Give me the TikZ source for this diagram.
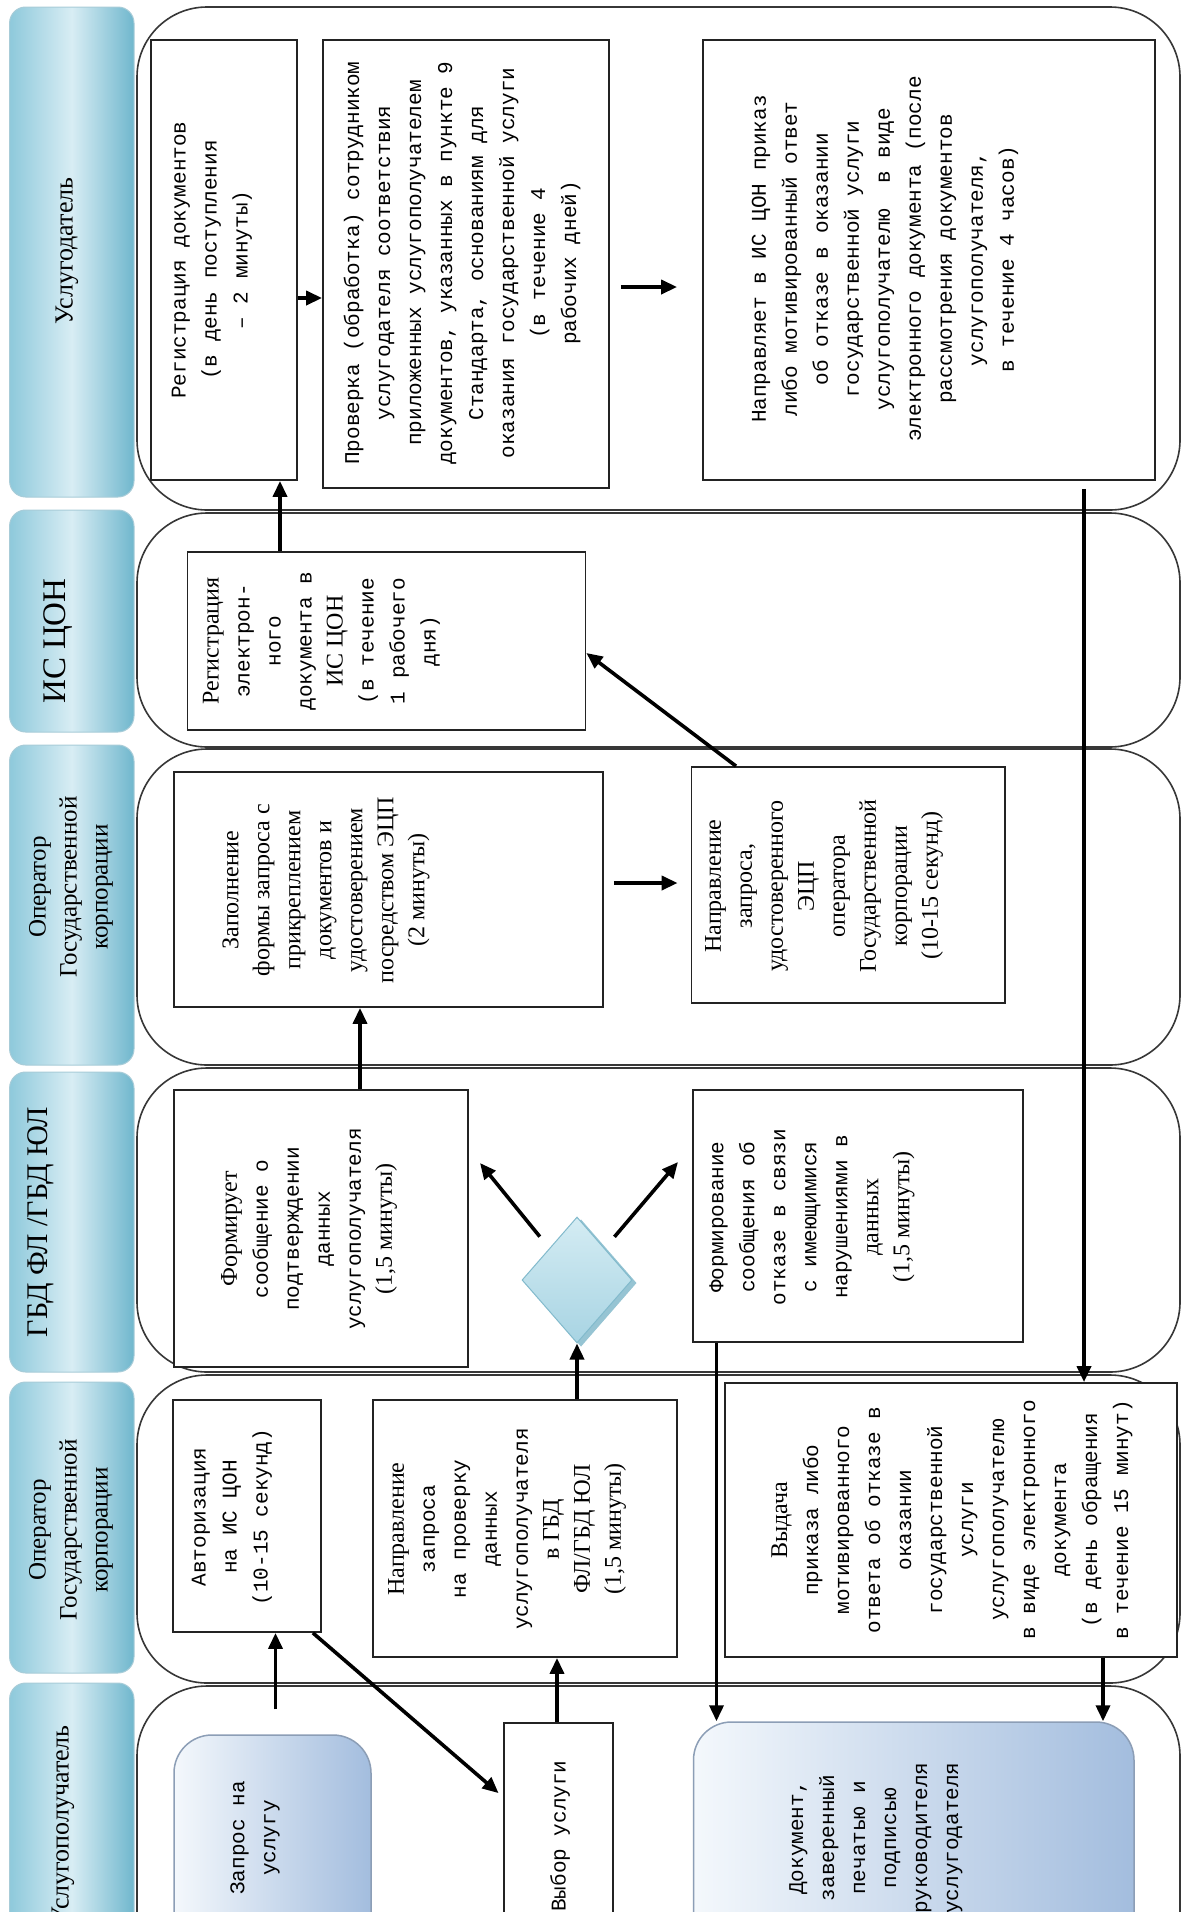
\documentclass[tikz,border=0pt]{standalone}
\usepackage{fontspec}
\setmainfont{Liberation Serif}
\newfontfamily\monofam{Liberation Mono}
\usetikzlibrary{arrows.meta,shapes.geometric,fit,calc}

\newcommand\mntxt{\fontsize{21}{31}\selectfont\monofam}
\newcommand\rmtxt{\fontsize{24}{31}\selectfont\rmfamily}
\newcommand\hdfont[1]{\fontsize{#1}{31}\selectfont\rmfamily}

\definecolor{hdrL}{RGB}{142,201,219}
\definecolor{hdrM}{RGB}{216,237,244}
\definecolor{hdrR}{RGB}{112,183,205}
\definecolor{hdrD}{RGB}{168,204,216}
\definecolor{termL}{RGB}{244,248,252}
\definecolor{termR}{RGB}{163,189,222}
\definecolor{termD}{RGB}{140,158,182}
\definecolor{decL}{RGB}{212,236,243}
\definecolor{decR}{RGB}{168,212,227}
\definecolor{decD}{RGB}{130,186,204}
\definecolor{decS}{RGB}{150,196,211}
\definecolor{laneD}{RGB}{55,55,55}
\definecolor{boxD}{RGB}{35,35,35}

\begin{document}
\begin{tikzpicture}[x=1pt,y=-1pt,
  lanebox/.style={draw=laneD, line width=1.6pt, rounded corners=70pt},
  hdrbox/.style={draw=hdrD, line width=1pt, rounded corners=16pt,
    left color=hdrL, right color=hdrR, middle color=hdrM, inner sep=0pt},
  procbox/.style={draw=boxD, line width=1.8pt, fill=white, inner sep=0pt},
  termbox/.style={draw=termD, line width=1.5pt, rounded corners=38pt,
    left color=termL, right color=termR, inner sep=0pt},
  decbox/.style={diamond, draw=decD, line width=1pt, inner sep=0pt,
    minimum width=110pt, minimum height=126pt},
  conn/.style={line width=3.6pt, -{Triangle[length=16pt,width=14pt]}},
  mtext/.style={rotate=90, align=center, inner sep=0pt, font=\mntxt},
  stext/.style={rotate=90, align=center, inner sep=0pt, font=\rmtxt},
]
\useasboundingbox (0,0) rectangle (1183,1912);
\clip (0,0) rectangle (1183,1912);
\fill[white] (0,0) rectangle (1183,1912);

% swimlane frames
\draw[lanebox] (137,7)    rectangle (1180,510);
\draw[lanebox] (137,513)  rectangle (1180,747);
\draw[lanebox] (137,749)  rectangle (1180,1065);
\draw[lanebox] (137,1068) rectangle (1180,1372);
\draw[lanebox] (137,1375) rectangle (1180,1683);
\draw[lanebox] (137,1686) rectangle (1180,2060);

% lane headers
\node[hdrbox, fit={(9.6,7) (134,497)}]     (h1) {};
\node[hdrbox, fit={(9.6,510) (134,732)}]   (h2) {};
\node[hdrbox, fit={(9.6,745) (134,1065)}]  (h3) {};
\node[hdrbox, fit={(9.6,1072) (134,1372)}] (h4) {};
\node[hdrbox, fit={(9.6,1382) (134,1673)}] (h5) {};
\node[hdrbox, fit={(9.6,1683) (134,2000)}] (h6) {};

\node[stext, font={\hdfont{26}}] (h1-t) at (67,251) {Услугодатель};
\node[stext, font={\hdfont{33}}] (h2-t) at (58,641) {ИС ЦОН};
\node[stext, font={\hdfont{25}}] (h3-t) at (71,887) {Оператор\\Государственной\\корпорации};
\node[stext, font={\hdfont{30}}] (h4-t) at (41,1222) {ГБД ФЛ /ГБД ЮЛ};
\node[stext, font={\hdfont{25}}] (h5-t) at (71,1530) {Оператор\\Государственной\\корпорации};
\node[stext, font={\hdfont{26}}, anchor=east] (h6-t) at (63,1725) {Услугополучатель};

% lane 1: service provider
\node[procbox, fit={(151,40) (297,480)}] (reg) {};
\node[mtext] (reg-t) at (212,260) {Регистрация документов\\(в день поступления\\– 2 минуты)};
\node[procbox, fit={(323,40) (609,488)}] (check) {};
\node[mtext] (check-t) at (462,263) {Проверка (обработка) сотрудником\\услугодателя соответствия\\приложенных услугополучателем\\документов, указанных в пункте 9\\Стандарта, основаниям для\\оказания государственной услуги\\(в течение 4\\рабочих дней)};
\node[procbox, fit={(703,40) (1155,480)}] (send) {};
\node[mtext] (send-t) at (885,259) {Направляет в ИС ЦОН приказ\\либо мотивированный ответ\\об отказе в оказании\\государственной услуги\\услугополучателю~ в виде\\электронного документа (после\\рассмотрения документов\\услугополучателя,\\в течение 4 часов)};

% lane 2: information system
\node[procbox, fit={(187.5,552) (585.5,730)}] (isreg) {};
\node[mtext] (isreg-t) at (321.5,641) {{\rmtxt Регистрация}\\электрон-\\ного\\документа в\\{\rmtxt ИС ЦОН}\\(в течение\\1 рабочего\\дня)};

% lane 3: operator
\node[procbox, fit={(174,772) (603,1007)}] (fillq) {};
\node[stext] (fillq-t) at (326,890) {Заполнение\\формы запроса с\\прикреплением\\документов и\\удостоверением\\посредством ЭЦП\\(2 минуты)};
\node[procbox, fit={(691.5,767) (1005,1003)}] (sendreq) {};
\node[stext] (sendreq-t) at (824,886) {Направление\\запроса,\\удостоверенного\\ЭЦП\\оператора\\Государственной\\корпорации\\(10-15 секунд)};

% lane 4: state databases
\node[procbox, fit={(174,1090) (468,1367)}] (confirm) {};
\node[mtext] (confirm-t) at (309,1229) {{\rmtxt Формирует}\\сообщение о\\подтверждении\\данных\\услугополучателя\\{\rmtxt (1,5 минуты)}};
\node[decbox, fill=decS, draw=decS] (dia-sh) at (581,1283) {};
\node[decbox, top color=decL, bottom color=decR] (dia) at (577,1280) {};
\node[procbox, fit={(693,1090) (1023,1342)}] (refuse) {};
\node[mtext] (refuse-t) at (812,1217) {Формирование\\сообщения об\\отказе в связи\\с имеющимися\\нарушениями в\\{\rmtxt данных}\\{\rmtxt (1,5 минуты)}};

% lane 5: operator
\node[procbox, fit={(173,1400) (321,1632)}] (auth) {};
\node[mtext] (auth-t) at (232,1517) {Авторизация\\на ИС ЦОН\\(10-15 секунд)};
\node[procbox, fit={(373,1400) (677,1657)}] (chkreq) {};
\node[mtext] (chkreq-t) at (507,1529) {{\rmtxt Направление}\\запроса\\на проверку\\данных\\услугополучателя\\{\rmtxt в ГБД}\\{\rmtxt ФЛ/ГБД ЮЛ}\\{\rmtxt (1,5 минуты)}};
\node[procbox, fit={(725,1383) (1177,1657)}] (issue) {};
\node[mtext] (issue-t) at (952,1520) {{\rmtxt Выдача}\\приказа либо\\мотивированного\\ответа об отказе в\\оказании\\государственной\\услуги\\услугополучателю\\в виде электронного\\документа\\(в день обращения\\в течение 15 минут)};

% lane 6: service recipient
\node[termbox, fit={(174,1735) (371,2000)}] (req) {};
\node[mtext] (req-t) at (255,1838) {Запрос на\\услугу};
\node[procbox, fit={(504,1723) (613,2000)}] (choose) {};
\node[mtext] (choose-t) at (560,1836) {Выбор услуги};
\node[termbox, fit={(693.5,1722) (1134,2000)}] (doc) {};
\node[mtext] (doc-t) at (876,1838) {Документ,\\заверенный\\печатью и\\подписью\\руководителя\\услугодателя};

% connector positions
\coordinate (yRC) at (0,298);
\coordinate (yCS) at (0,287);
\coordinate (xIR) at (280,0);
\coordinate (xSR) at (736,0);
\coordinate (ySR) at (0,653);
\coordinate (yFS) at (0,883);
\coordinate (xCF) at (360,0);
\coordinate (tipL) at (480,1163);
\coordinate (tipR) at (678,1162);
\coordinate (xRD) at (716.5,0);
\coordinate (xSI) at (1084,0);
\coordinate (xID) at (1103,0);
\coordinate (xRA) at (275.5,0);
\coordinate (yAC) at (0,1797);
\coordinate (xCC) at (557,0);

% connectors
\draw[conn] (reg.east |- yRC) -- (check.west |- yRC);
\draw[conn, shorten <=11pt, shorten >=25pt] (check.east |- yCS) -- (send.west |- yCS);
\draw[conn] (isreg.north -| xIR) -- (reg.south -| xIR);
\draw[conn] (sendreq.north -| xSR) -- (isreg.east |- ySR);
\draw[conn, shorten <=10pt, shorten >=13pt] (fillq.east |- yFS) -- (sendreq.west |- yFS);
\draw[conn] (confirm.north -| xCF) -- (fillq.south -| xCF);
\draw[conn, shorten <=15pt] (dia.north west) -- (tipL);
\draw[conn, shorten <=15pt] (dia.north east) -- (tipR);
\draw[conn] (chkreq.north -| dia.south) -- (dia.south);
\draw[conn] (refuse.south -| xRD) -- (doc.north -| xRD);
\draw[conn, shorten <=8pt] (send.south -| xSI) -- (issue.north -| xSI);
\draw[conn] (issue.south -| xID) -- (doc.north -| xID);
\draw[conn, shorten <=25pt] (req.north -| xRA) -- (auth.south -| xRA);
\draw[conn, shorten >=6pt] ($(auth.south east)+(-9,0)$) -- (choose.west |- yAC);
\draw[conn] (choose.north -| xCC) -- (chkreq.south -| xCC);
\end{tikzpicture}
\end{document}
